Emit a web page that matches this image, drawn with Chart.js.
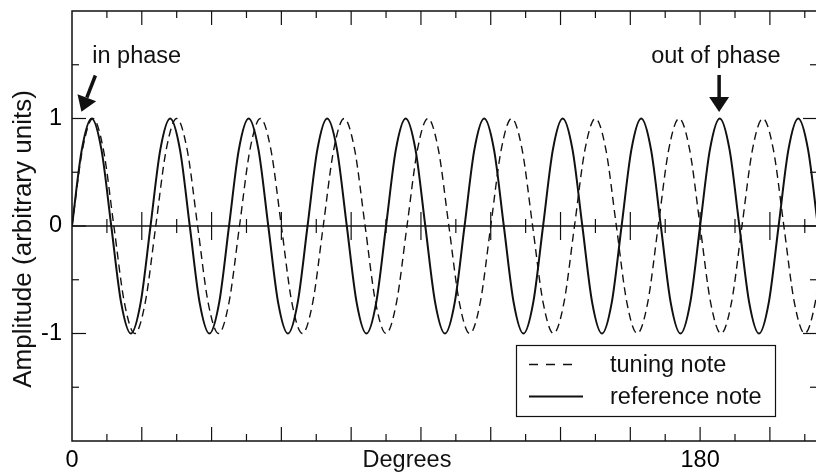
<!DOCTYPE html>
<html>
<head>
<meta charset="utf-8">
<title>Beats: tuning note against reference note</title>
<script src="https://cdn.jsdelivr.net/npm/chart.js@4.4.1/dist/chart.umd.min.js"></script>
<style>
  html, body { margin: 0; padding: 0; background: #fff; overflow: hidden; }
  #wrap { position: relative; width: 818px; height: 472px; }
</style>
</head>
<body>
<div id="wrap"><canvas id="beatChart"></canvas></div>
<script>
// reference note, every 1/8 cycle (one cycle ~22.5 deg)
const refDegrees = [
    0, 2.81, 5.63, 8.44, 11.25, 14.06, 16.88, 19.69,
    22.5, 25.31, 28.13, 30.94, 33.75, 36.56, 39.38, 42.19,
    45, 47.81, 50.63, 53.44, 56.25, 59.06, 61.88, 64.69,
    67.5, 70.31, 73.13, 75.94, 78.75, 81.56, 84.38, 87.19,
    90, 92.81, 95.63, 98.44, 101.25, 104.06, 106.88, 109.69,
    112.5, 115.31, 118.13, 120.94, 123.75, 126.56, 129.38, 132.19,
    135, 137.81, 140.63, 143.44, 146.25, 149.06, 151.88, 154.69,
    157.5, 160.31, 163.13, 165.94, 168.75, 171.56, 174.38, 177.19,
    180, 182.81, 185.63, 188.44, 191.25, 194.06, 196.88, 199.69,
    202.5, 205.31, 208.13, 210.94, 213.75
];
const refAmplitude = [
    0, 0.71, 1, 0.71, 0, -0.71, -1, -0.71,
    0, 0.71, 1, 0.71, 0, -0.71, -1, -0.71,
    0, 0.71, 1, 0.71, 0, -0.71, -1, -0.71,
    0, 0.71, 1, 0.71, 0, -0.71, -1, -0.71,
    0, 0.71, 1, 0.71, 0, -0.71, -1, -0.71,
    0, 0.71, 1, 0.71, 0, -0.71, -1, -0.71,
    0, 0.71, 1, 0.71, 0, -0.71, -1, -0.71,
    0, 0.71, 1, 0.71, 0, -0.71, -1, -0.71,
    0, 0.71, 1, 0.71, 0, -0.71, -1, -0.71,
    0, 0.71, 1, 0.71, 0
];

// tuning note, a little flat (one cycle ~24 deg)
const tuningDegrees = [
    0, 3, 6, 9, 12, 15, 18, 21,
    24, 27, 30, 33, 36, 39, 42, 45,
    48, 51, 54, 57, 60, 63, 66, 69,
    72, 75, 78, 81, 84, 87, 90, 93,
    96, 99, 102, 105, 108, 111, 114, 117,
    120, 123, 126, 129, 132, 135, 138, 141,
    144, 147, 150, 153, 156, 159, 162, 165,
    168, 171, 174, 177, 180, 183, 186, 189,
    192, 195, 198, 201, 204, 207, 210, 213,
    216
];
const tuningAmplitude = [
    0, 0.71, 1, 0.71, 0, -0.71, -1, -0.71,
    0, 0.71, 1, 0.71, 0, -0.71, -1, -0.71,
    0, 0.71, 1, 0.71, 0, -0.71, -1, -0.71,
    0, 0.71, 1, 0.71, 0, -0.71, -1, -0.71,
    0, 0.71, 1, 0.71, 0, -0.71, -1, -0.71,
    0, 0.71, 1, 0.71, 0, -0.71, -1, -0.71,
    0, 0.71, 1, 0.71, 0, -0.71, -1, -0.71,
    0, 0.71, 1, 0.71, 0, -0.71, -1, -0.71,
    0, 0.71, 1, 0.71, 0, -0.71, -1, -0.71,
    0
];

const xTickLabels = [0, 180];
const yTickLabels = [-1, 0, 1];
const legendLabels = ['tuning note', 'reference note'];

const FONT = '"Liberation Sans", Arial, Helvetica, sans-serif';
const INK = '#111';

function toPoints(xs, ys) {
    return xs.map((x, i) => ({ x: x, y: ys[i] }));
}

function line(ctx, x1, y1, x2, y2) {
    ctx.beginPath();
    ctx.moveTo(x1, y1);
    ctx.lineTo(x2, y2);
    ctx.stroke();
}

function arrow(ctx, x1, y1, x2, y2) {
    const ang = Math.atan2(y2 - y1, x2 - x1);
    const headLen = 15, headHalf = 10;
    const bx = x2 - headLen * Math.cos(ang), by = y2 - headLen * Math.sin(ang);
    ctx.lineWidth = 3.5;
    line(ctx, x1, y1, bx, by);
    ctx.beginPath();
    ctx.moveTo(x2, y2);
    ctx.lineTo(bx + headHalf * Math.sin(ang), by - headHalf * Math.cos(ang));
    ctx.lineTo(bx - headHalf * Math.sin(ang), by + headHalf * Math.cos(ang));
    ctx.closePath();
    ctx.fill();
}

// zero line underneath the curves
const zeroLine = {
    id: 'zeroLine',
    beforeDatasetsDraw(chart) {
        const { ctx, chartArea: a, scales: { y } } = chart;
        const y0 = y.getPixelForValue(0);
        ctx.save();
        ctx.strokeStyle = INK;
        ctx.lineWidth = 1.6;
        line(ctx, a.left, y0, a.right, y0);
        ctx.restore();
    }
};

// frame, inward ticks, notes, legend, axis titles
const decorations = {
    id: 'decorations',
    afterDatasetsDraw(chart) {
        const { ctx, chartArea: a, scales: { x, y } } = chart;
        const y0 = y.getPixelForValue(0);
        ctx.save();
        ctx.strokeStyle = INK;
        ctx.fillStyle = INK;

        ctx.lineWidth = 1.5;
        ctx.strokeRect(a.left, a.top, a.right - a.left, a.bottom - a.top);

        ctx.lineWidth = 1.2;
        for (let v = 10; v < x.max; v += 10) {
            const px = x.getPixelForValue(v);
            const len = v % 20 === 0 ? 14 : 7;
            line(ctx, px, a.bottom, px, a.bottom - len);
            line(ctx, px, a.top, px, a.top + len);
            line(ctx, px, y0 - len, px, y0 + len);
        }
        for (let v = -1.5; v <= 1.5; v += 0.5) {
            const py = y.getPixelForValue(v);
            const len = Number.isInteger(v) ? 14 : 7;
            line(ctx, a.left, py, a.left + len, py);
            line(ctx, a.right, py, a.right - len, py);
        }

        // notes
        ctx.font = '23.5px ' + FONT;
        ctx.textBaseline = 'alphabetic';
        ctx.textAlign = 'left';
        ctx.fillText('in phase', x.getPixelForValue(5.8), y.getPixelForValue(1.513));
        ctx.textAlign = 'center';
        ctx.fillText('out of phase', x.getPixelForValue(184.5), y.getPixelForValue(1.513));
        arrow(ctx, x.getPixelForValue(6.7), y.getPixelForValue(1.40),
              x.getPixelForValue(2.7), y.getPixelForValue(1.063));
        arrow(ctx, x.getPixelForValue(185.45), y.getPixelForValue(1.405),
              x.getPixelForValue(185.45), y.getPixelForValue(1.06));

        // legend
        ctx.lineWidth = 1.2;
        ctx.strokeRect(516.5, 345.5, 259, 71);
        ctx.lineWidth = 1.4;
        ctx.setLineDash([9, 8]);
        line(ctx, 529, 364.5, 575, 364.5);
        ctx.setLineDash([]);
        ctx.lineWidth = 2;
        line(ctx, 529, 396.5, 583, 396.5);
        ctx.textAlign = 'left';
        ctx.fillText(legendLabels[0], 610, 372);
        ctx.fillText(legendLabels[1], 610, 404);

        // axis titles
        ctx.textAlign = 'center';
        ctx.fillText('Degrees', x.getPixelForValue(96), 467);
        ctx.font = '26px ' + FONT;
        ctx.translate(31, 239);
        ctx.rotate(-Math.PI / 2);
        ctx.fillText('Amplitude (arbitrary units)', 0, 0);
        ctx.restore();
    }
};

const chart = new Chart(document.getElementById('beatChart'), {
    type: 'scatter',
    data: {
        datasets: [{
            label: legendLabels[0],
            data: toPoints(tuningDegrees, tuningAmplitude),
            showLine: true,
            borderColor: INK,
            borderWidth: 1.4,
            borderDash: [8, 5],
            pointRadius: 0,
            cubicInterpolationMode: 'monotone'
        }, {
            label: legendLabels[1],
            data: toPoints(refDegrees, refAmplitude),
            showLine: true,
            borderColor: INK,
            borderWidth: 2,
            pointRadius: 0,
            cubicInterpolationMode: 'monotone'
        }]
    },
    options: {
        responsive: true,
        maintainAspectRatio: false,
        animation: false,
        events: [],
        layout: { padding: { left: 0, right: 1, top: 11, bottom: 0 } },
        plugins: {
            legend: { display: false },
            tooltip: { enabled: false }
        },
        scales: {
            x: {
                type: 'linear',
                min: 0,
                max: 213.5,
                grid: { display: false, drawTicks: false },
                border: { display: false },
                afterBuildTicks: s => { s.ticks = xTickLabels.map(v => ({ value: v })); },
                afterFit: s => { s.height = 31; s.paddingLeft = 0; s.paddingRight = 0; },
                ticks: {
                    color: '#000',
                    font: { family: FONT, size: 23.5 },
                    padding: 5,
                    maxRotation: 0,
                    autoSkip: false
                }
            },
            y: {
                min: -2,
                max: 2,
                grid: { display: false, drawTicks: false },
                border: { display: false },
                afterBuildTicks: s => { s.ticks = yTickLabels.map(v => ({ value: v })); },
                afterFit: s => { s.width = 72; s.paddingTop = 0; s.paddingBottom = 0; },
                ticks: {
                    color: '#000',
                    font: { family: FONT, size: 23.5 },
                    padding: 10
                }
            }
        }
    },
    plugins: [zeroLine, decorations]
});
</script>
</body>
</html>
